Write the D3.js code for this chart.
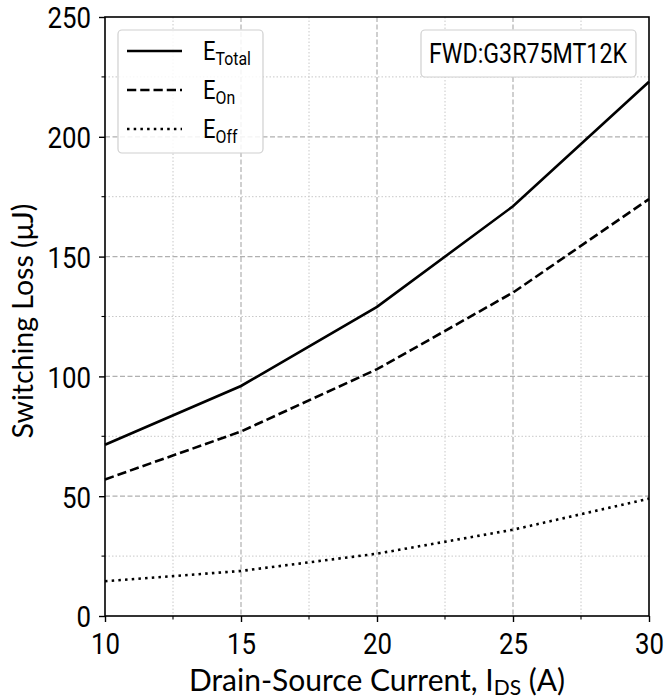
<!DOCTYPE html>
<html><head><meta charset="utf-8">
<script src="https://cdn.jsdelivr.net/npm/d3@7"></script>
<style>body{margin:0;background:#fff}</style>
</head><body>
<svg id="c" width="665" height="700"></svg>
<script>
const current = [10, 15, 20, 25, 30];
const eTotal = [71.5, 96, 129, 171, 223];
const eOn = [57, 77, 103, 135, 174];
const eOff = [14.5, 18.8, 26, 36, 49];
const xTicks = [10, 15, 20, 25, 30];
const yTicks = [0, 50, 100, 150, 200, 250];
const seriesNames = ["Total", "On", "Off"];

const svg = d3.select("#c");
const L = 105, R = 649, T = 17, B = 616;
const x = d3.scaleLinear().domain([10, 30]).range([L, R]);
const y = d3.scaleLinear().domain([0, 250]).range([B, T]);
const tickFont = "Roboto";
function condense(sel, f) {
  sel.each(function () { const w = this.getComputedTextLength(); d3.select(this).attr("textLength", w * f).attr("lengthAdjust", "spacingAndGlyphs"); });
}

// minor grid
const g = svg.append("g");
const xMinor = d3.range(12.5, 30, 5);
const yMinor = d3.range(25, 250, 50);
g.selectAll(".xm").data(xMinor).join("line").attr("x1", d => x(d)).attr("x2", d => x(d)).attr("y1", T).attr("y2", B)
  .attr("stroke", "#c8c8c8").attr("stroke-width", 1).attr("stroke-dasharray", "1.5,2");
g.selectAll(".ym").data(yMinor).join("line").attr("y1", d => y(d)).attr("y2", d => y(d)).attr("x1", L).attr("x2", R)
  .attr("stroke", "#c8c8c8").attr("stroke-width", 1).attr("stroke-dasharray", "1.5,2");
// major grid
g.selectAll(".xM").data(xTicks.slice(1, -1)).join("line").attr("x1", d => x(d)).attr("x2", d => x(d)).attr("y1", T).attr("y2", B)
  .attr("stroke", "#b0b0b0").attr("stroke-width", 1.2).attr("stroke-dasharray", "5,2.5");
g.selectAll(".yM").data(yTicks.slice(1, -1)).join("line").attr("y1", d => y(d)).attr("y2", d => y(d)).attr("x1", L).attr("x2", R)
  .attr("stroke", "#b0b0b0").attr("stroke-width", 1.2).attr("stroke-dasharray", "5,2.5");

// lines
const line = d3.line().x((d, i) => x(current[i])).y(d => y(d));
const styles = [null, "9.25,4", "2.5,4.2"];
[eTotal, eOn, eOff].forEach((s, k) => {
  svg.append("path").datum(s).attr("d", line).attr("fill", "none").attr("stroke", "#000")
    .attr("stroke-width", 2.6).attr("stroke-dasharray", styles[k]);
});

// frame
svg.append("rect").attr("x", L).attr("y", T).attr("width", R - L).attr("height", B - T)
  .attr("fill", "none").attr("stroke", "#000").attr("stroke-width", 1.6);

// axes
const xAxis = d3.axisBottom(x).tickValues(xTicks).tickSize(6).tickPadding(5).tickFormat(d3.format("d"));
const yAxis = d3.axisLeft(y).tickValues(yTicks).tickSize(6).tickPadding(8).tickFormat(d3.format("d"));
const gx = svg.append("g").attr("transform", `translate(0,${B})`).call(xAxis);
const gy = svg.append("g").attr("transform", `translate(${L},0)`).call(yAxis);
[gx, gy].forEach(a => {
  a.select(".domain").remove();
  a.selectAll(".tick line").attr("stroke", "#000").attr("stroke-width", 1.4);
  a.selectAll("text").attr("font-family", tickFont).attr("font-size", 30).attr("fill", "#000");
});
gx.selectAll("text").attr("dy", "0.9em").call(condense, 0.86);
gy.selectAll("text").attr("dy", "0.36em").call(condense, 0.86);
// minor ticks
svg.append("g").selectAll("line").data(xMinor).join("line").attr("x1", d => x(d)).attr("x2", d => x(d))
  .attr("y1", B).attr("y2", B + 3.5).attr("stroke", "#000").attr("stroke-width", 1.1);
svg.append("g").selectAll("line").data(yMinor).join("line").attr("y1", d => y(d)).attr("y2", d => y(d))
  .attr("x1", L).attr("x2", L - 3.5).attr("stroke", "#000").attr("stroke-width", 1.1);

// axis labels
const xl = svg.append("text").attr("x", 377).attr("y", 691).attr("text-anchor", "middle")
  .attr("font-family", "Lato").attr("font-size", 30).attr("fill", "#000");
xl.append("tspan").text("Drain-Source Current, I");
xl.append("tspan").attr("font-size", 21).attr("dy", 4).text("DS");
xl.append("tspan").attr("dy", -4).text(" (A)");
svg.append("text").attr("transform", `translate(33,321) rotate(-90)`).attr("text-anchor", "middle")
  .attr("font-family", "Lato").attr("font-size", 28.5).attr("fill", "#000").text("Switching Loss (μJ)");

// legend
svg.append("rect").attr("x", 118).attr("y", 30).attr("width", 145).attr("height", 123).attr("rx", 4)
  .attr("fill", "#fff").attr("fill-opacity", 0.85).attr("stroke", "#d0d0d0").attr("stroke-width", 1.2);
seriesNames.forEach((n, k) => {
  const yy = 51 + k * 39;
  svg.append("line").attr("x1", 127).attr("x2", 182).attr("y1", yy).attr("y2", yy).attr("stroke", "#000")
    .attr("stroke-width", 2.6).attr("stroke-dasharray", styles[k]);
  const t = svg.append("text").attr("x", 203).attr("y", yy + 9).attr("font-family", tickFont).attr("font-size", 25).attr("fill", "#000");
  t.append("tspan").text("E");
  t.append("tspan").attr("font-size", 18).attr("dy", 5).text(n);
  t.call(condense, 0.88);
});

// annotation
svg.append("rect").attr("x", 421).attr("y", 30).attr("width", 215).attr("height", 47).attr("rx", 4)
  .attr("fill", "#fff").attr("stroke", "#d0d0d0").attr("stroke-width", 1.2);
svg.append("text").attr("x", 528).attr("y", 63).attr("text-anchor", "middle").attr("font-family", tickFont)
  .attr("font-size", 27).attr("fill", "#000").text("FWD:G3R75MT12K").call(condense, 0.86);
</script>
</body></html>
